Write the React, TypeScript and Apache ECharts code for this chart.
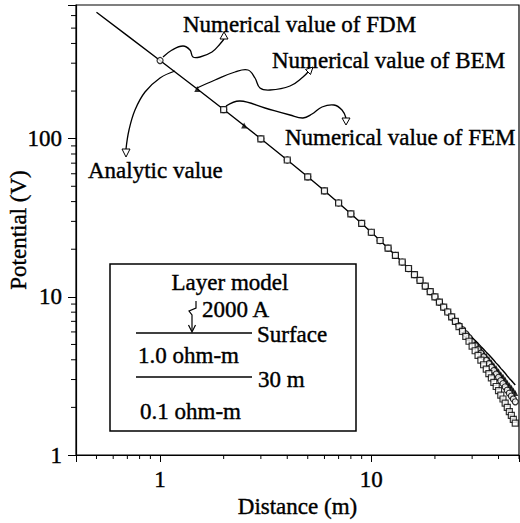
import React, { useEffect, useRef } from "react";
import * as echarts from "echarts";

// Distances (m) where all methods coincide
const nearDistance = [1, 2, 3, 4, 5, 6, 7, 8, 9, 10, 11, 12, 13, 14, 15, 16, 17, 18, 19, 20, 21, 22, 23, 24];
const nearPotential = [312.0, 152.8, 99.8, 73.3, 57.4, 46.8, 39.2, 33.5, 29.1, 25.6, 22.7, 20.3, 18.3, 16.6, 15.1, 13.8, 12.7, 11.7, 10.8, 10.0, 9.26, 8.61, 8.02, 7.48];

// Far field (curves separate)
const tailDistance = [25, 26, 27, 28, 29, 30, 31, 32, 33, 34, 35, 36, 37, 38, 39, 40, 41, 42, 43, 44, 45, 46, 47, 48];
const analyticTail = [7.0, 6.66, 6.36, 6.06, 5.8, 5.53, 5.3, 5.08, 4.86, 4.66, 4.47, 4.3, 4.13, 3.97, 3.81, 3.68, 3.53, 3.41, 3.29, 3.16, 3.05, 2.96, 2.86, 2.77];
const bemTail = [7.0, 6.62, 6.28, 5.95, 5.66, 5.37, 5.11, 4.87, 4.64, 4.42, 4.22, 4.04, 3.86, 3.69, 3.53, 3.39, 3.24, 3.12, 2.99, 2.86, 2.76, 2.66, 2.56, 2.47];
const fdmTail = [7.0, 6.58, 6.2, 5.84, 5.52, 5.2, 4.92, 4.66, 4.41, 4.18, 3.97, 3.78, 3.59, 3.42, 3.25, 3.1, 2.95, 2.83, 2.7, 2.57, 2.46, 2.36, 2.26, 2.17];
const femTail = [7.0, 6.49, 6.04, 5.62, 5.24, 4.88, 4.56, 4.26, 3.98, 3.72, 3.49, 3.27, 3.07, 2.88, 2.71, 2.55, 2.39, 2.26, 2.13, 2.0, 1.88, 1.78, 1.68, 1.59];

// Extra points
const analyticStartDistance = [0.5, 0.7, 1.5];
const analyticStartPotential = [630.3, 448.4, 205.9];
const bemExtraDistance = [1.5, 2.5];
const bemExtraPotential = [205.9, 121.0];

const xMinorTicks = [0.5, 0.6, 0.7, 0.8, 0.9, 2, 3, 4, 5, 6, 7, 8, 9, 20, 30, 40, 50];
const yMinorTicks = [2, 3, 4, 5, 6, 7, 8, 9, 20, 30, 40, 50, 60, 70, 80, 90, 200, 300, 400, 500, 600];

const FONT = "Liberation Serif, Times New Roman, serif";
const FS = 23;

function zip(xs: number[], ys: number[]) {
  return xs.map((x, i) => [x, ys[i]]);
}

function buildData() {
  const analytic = [
    ...zip(analyticStartDistance, analyticStartPotential),
    ...zip(nearDistance, nearPotential),
    ...zip(tailDistance, analyticTail),
  ].sort((a, b) => a[0] - b[0]);
  const bem = [
    ...zip(bemExtraDistance, bemExtraPotential),
    ...zip(nearDistance, nearPotential).filter((p) => p[0] >= 3),
    ...zip(tailDistance, bemTail),
  ];
  const fdm = [...zip(nearDistance, nearPotential), ...zip(tailDistance, fdmTail)];
  const fem = [
    ...zip(nearDistance, nearPotential).filter((p) => p[0] >= 2),
    ...zip(tailDistance, femTail),
  ];
  return { analytic, bem, fdm, fem };
}

function txt(text: string, x: number, y: number, align = "left") {
  return {
    type: "text",
    x,
    y,
    z: 100,
    style: {
      text,
      fontSize: FS,
      fontFamily: FONT,
      fill: "#000",
      stroke: "#000",
      lineWidth: 0.4,
      align,
      textAlign: align,
      verticalAlign: "middle",
      textVerticalAlign: "middle",
    },
  };
}

function curve(points: number[][]) {
  return {
    type: "polyline",
    z: 100,
    shape: { points, smooth: 0.4 },
    style: { stroke: "#000", lineWidth: 1.3, fill: null },
  };
}

function head(points: number[][]) {
  return {
    type: "polygon",
    z: 101,
    shape: { points },
    style: { stroke: "#000", lineWidth: 1, fill: "#fff" },
  };
}

const labelStyle = {
  fontSize: FS,
  fontFamily: FONT,
  color: "#000",
  textBorderColor: "#000",
  textBorderWidth: 0.4,
};

export default function App() {
  const ref = useRef<HTMLDivElement>(null);
  useEffect(() => {
    if (!ref.current) return;
    const chart = echarts.init(ref.current, null, { renderer: "svg" });
    const { analytic, bem, fdm, fem } = buildData();
    const isPow10 = (v: number) => {
      const l = Math.log10(v);
      return Math.abs(l - Math.round(l)) < 1e-6;
    };
    const option: any = {
      animation: false,
      backgroundColor: "#fff",
      textStyle: { fontFamily: FONT },
      grid: {
        left: 76,
        right: 1,
        top: 5,
        bottom: 68,
        containLabel: false,
        outerBoundsMode: "none",
        show: true,
        borderColor: "#000",
        borderWidth: 1.2,
        backgroundColor: "transparent",
      },
      xAxis: {
        type: "log",
        logBase: 10,
        min: 0.4,
        max: 50,
        name: "Distance (m)",
        nameLocation: "middle",
        nameGap: 40,
        nameMoveOverlap: false,
        nameTextStyle: labelStyle,
        axisLine: { lineStyle: { color: "#000", width: 1.2 } },
        axisTick: { length: 7, lineStyle: { color: "#000" } },
        splitLine: { show: false },
        axisLabel: {
          margin: 13,
          ...labelStyle,
          formatter: (v: number) => (isPow10(v) ? String(Math.round(v)) : ""),
        },
      },
      yAxis: {
        type: "log",
        logBase: 10,
        min: 1,
        max: 700,
        name: "Potential (V)",
        nameLocation: "middle",
        nameGap: 46,
        nameMoveOverlap: false,
        nameTextStyle: labelStyle,
        axisLine: { lineStyle: { color: "#000", width: 1.2 } },
        axisTick: { length: 8, lineStyle: { color: "#000" } },
        splitLine: { show: false },
        axisLabel: {
          margin: 14,
          ...labelStyle,
          formatter: (v: number) => (isPow10(v) ? String(Math.round(v)) : ""),
        },
      },
      series: [
        {
          name: "Analytic value",
          type: "line",
          data: analytic,
          showSymbol: false,
          symbol: "none",
          lineStyle: { color: "#000", width: 1.4 },
          z: 2,
        },
        {
          name: "Numerical value of BEM",
          type: "scatter",
          data: bem,
          symbol: "triangle",
          symbolSize: 6,
          itemStyle: { color: "#000" },
          z: 3,
        },
        {
          name: "Numerical value of FDM",
          type: "scatter",
          data: fdm,
          symbol: "circle",
          symbolSize: 6,
          itemStyle: { color: "#fff", borderColor: "#000", borderWidth: 1.2 },
          z: 4,
        },
        {
          name: "Numerical value of FEM",
          type: "scatter",
          data: fem,
          symbol: "rect",
          symbolSize: 6,
          itemStyle: { color: "#fff", borderColor: "#000", borderWidth: 1.2 },
          z: 5,
        },
        {
          type: "custom",
          silent: true,
          clip: false,
          z: 6,
          data: xMinorTicks.map((v) => [v, 1]),
          renderItem: (params: any, api: any) => {
            const p = api.coord([api.value(0), api.value(1)]);
            return {
              type: "line",
              shape: { x1: p[0], y1: p[1], x2: p[0], y2: p[1] + 4 },
              style: { stroke: "#000", lineWidth: 1 },
            };
          },
        },
        {
          type: "custom",
          silent: true,
          clip: false,
          z: 6,
          data: yMinorTicks.map((v) => [0.4, v]),
          renderItem: (params: any, api: any) => {
            const p = api.coord([api.value(0), api.value(1)]);
            return {
              type: "line",
              shape: { x1: p[0] - 5, y1: p[1], x2: p[0], y2: p[1] },
              style: { stroke: "#000", lineWidth: 1 },
            };
          },
        },
      ],
      graphic: [
        txt("Numerical value of FDM", 183, 24),
        txt("Numerical value of BEM", 272, 60),
        txt("Numerical value of FEM", 285, 137),
        txt("Analytic value", 88, 170),
        curve([[163, 57], [172, 50], [183, 46], [190, 50], [193, 57], [200, 57], [212, 52], [220, 44], [224, 39]]),
        head([[224, 32], [220, 39], [228, 39]]),
        curve([[197, 88], [215, 80], [235, 72], [248, 70], [255, 78], [260, 88], [270, 90], [290, 86], [303, 77], [308, 72]]),
        head([[313, 67], [310.5, 74.5], [305.5, 69.5]]),
        curve([[226, 106], [240, 101], [265, 108], [290, 115], [303, 118], [312, 114], [322, 107], [334, 105], [342, 110], [346, 118]]),
        head([[346, 125], [342, 118], [350, 118]]),
        curve([[175, 71], [160, 78], [145, 92], [135, 110], [129, 130], [126, 149]]),
        head([[126, 157], [122, 149], [130, 149]]),
        {
          type: "rect",
          z: 90,
          shape: { x: 110, y: 264, width: 246, height: 167 },
          style: { stroke: "#000", lineWidth: 1.5, fill: "#fff" },
        },
        txt("Layer model", 230, 282, "center"),
        txt("2000 A", 202, 309),
        txt("Surface", 257, 334),
        txt("1.0 ohm-m", 138, 355),
        txt("30 m", 258, 379),
        txt("0.1 ohm-m", 140, 411),
        {
          type: "line",
          z: 100,
          shape: { x1: 136, y1: 333, x2: 252, y2: 333 },
          style: { stroke: "#000", lineWidth: 1.3 },
        },
        {
          type: "line",
          z: 100,
          shape: { x1: 136, y1: 377, x2: 252, y2: 377 },
          style: { stroke: "#000", lineWidth: 1.3 },
        },
        {
          type: "polyline",
          z: 100,
          shape: { points: [[196, 301], [196, 308], [189, 311], [192, 315], [192, 331]] },
          style: { stroke: "#000", lineWidth: 1.2, fill: null },
        },
        {
          type: "polyline",
          z: 100,
          shape: { points: [[188.5, 325], [192, 332], [195.5, 325]] },
          style: { stroke: "#000", lineWidth: 1.2, fill: null },
        },
      ],
    };
    chart.setOption(option);
    return () => chart.dispose();
  }, []);
  return (
    <div
      ref={ref}
      style={{ position: "absolute", left: 0, top: 0, width: 520, height: 523, background: "#fff" }}
    />
  );
}
